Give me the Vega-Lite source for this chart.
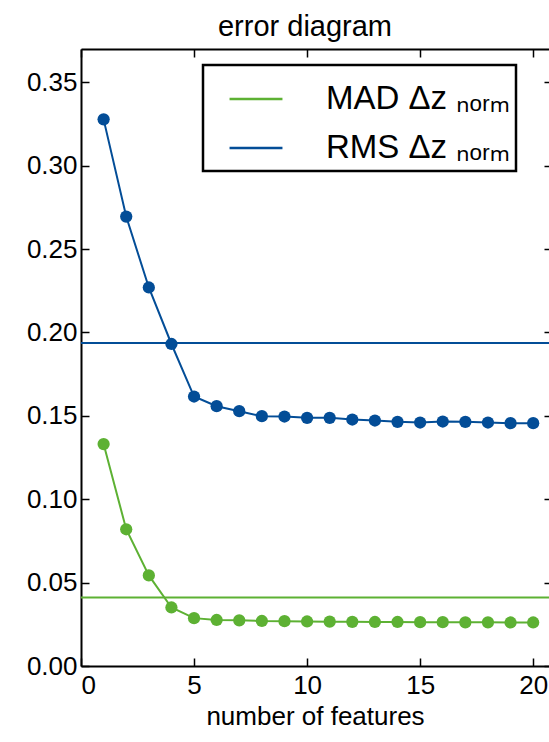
{
  "$schema": "https://vega.github.io/schema/vega-lite/v6.json",
  "autosize": "none",
  "width": 468,
  "height": 617,
  "padding": {"left": 81, "top": 49, "right": 0, "bottom": 76},
  "background": "white",
  "title": {"text": "error  diagram", "font": "Liberation Sans", "fontSize": 29, "fontWeight": "normal", "color": "black", "anchor": "middle", "offset": 6, "dx": -10},
  "config": {
    "view": {"stroke": null},
    "font": "Liberation Sans",
    "axis": {"grid": false, "domainColor": "black", "domainWidth": 2, "tickColor": "black", "tickWidth": 1.5, "labelFont": "Liberation Sans", "labelFontSize": 26, "labelColor": "black", "titleFont": "Liberation Sans", "titleFontSize": 26, "titleFontWeight": "normal", "titleColor": "black"},
    "legend": {"orient": "none", "legendX": 122, "legendY": 16, "strokeColor": "black", "strokeWidth": 2.5, "padding": 6, "symbolOffset": 19, "symbolType": "stroke", "symbolSize": 2800, "symbolStrokeWidth": 2.5, "labelFont": "Liberation Sans, Noto Sans", "labelFontSize": 33, "labelColor": "black", "labelOffset": 42, "rowPadding": 4, "labelLimit": 400, "title": null, "fillColor": "white"}
  },
  "datasets": {
    "pts": [
      {"n": 1, "s": "MAD", "v": 0.1331}, {"n": 2, "s": "MAD", "v": 0.0820}, {"n": 3, "s": "MAD", "v": 0.0543}, {"n": 4, "s": "MAD", "v": 0.0351},
      {"n": 5, "s": "MAD", "v": 0.0287}, {"n": 6, "s": "MAD", "v": 0.0276}, {"n": 7, "s": "MAD", "v": 0.0274}, {"n": 8, "s": "MAD", "v": 0.0270},
      {"n": 9, "s": "MAD", "v": 0.0269}, {"n": 10, "s": "MAD", "v": 0.0267}, {"n": 11, "s": "MAD", "v": 0.0266}, {"n": 12, "s": "MAD", "v": 0.0265},
      {"n": 13, "s": "MAD", "v": 0.0264}, {"n": 14, "s": "MAD", "v": 0.0264}, {"n": 15, "s": "MAD", "v": 0.0263}, {"n": 16, "s": "MAD", "v": 0.0263},
      {"n": 17, "s": "MAD", "v": 0.0262}, {"n": 18, "s": "MAD", "v": 0.0262}, {"n": 19, "s": "MAD", "v": 0.0261}, {"n": 20, "s": "MAD", "v": 0.0261},
      {"n": 1, "s": "RMS", "v": 0.3278}, {"n": 2, "s": "RMS", "v": 0.2695}, {"n": 3, "s": "RMS", "v": 0.2270}, {"n": 4, "s": "RMS", "v": 0.1931},
      {"n": 5, "s": "RMS", "v": 0.1616}, {"n": 6, "s": "RMS", "v": 0.1558}, {"n": 7, "s": "RMS", "v": 0.1528}, {"n": 8, "s": "RMS", "v": 0.1498},
      {"n": 9, "s": "RMS", "v": 0.1496}, {"n": 10, "s": "RMS", "v": 0.1488}, {"n": 11, "s": "RMS", "v": 0.1488}, {"n": 12, "s": "RMS", "v": 0.1478},
      {"n": 13, "s": "RMS", "v": 0.1472}, {"n": 14, "s": "RMS", "v": 0.1464}, {"n": 15, "s": "RMS", "v": 0.1460}, {"n": 16, "s": "RMS", "v": 0.1466},
      {"n": 17, "s": "RMS", "v": 0.1464}, {"n": 18, "s": "RMS", "v": 0.1460}, {"n": 19, "s": "RMS", "v": 0.1456}, {"n": 20, "s": "RMS", "v": 0.1456}
    ],
    "ref": [
      {"s": "MAD", "v": 0.0411},
      {"s": "RMS", "v": 0.1937}
    ]
  },
  "resolve": {"axis": {"x": "independent", "y": "independent"}},
  "layer": [
    {
      "data": {"name": "ref"},
      "mark": {"type": "rule", "strokeWidth": 2},
      "encoding": {
        "y": {"field": "v", "type": "quantitative", "scale": {"domain": [0, 0.37], "nice": false}, "axis": {"orient": "left", "values": [0, 0.05, 0.1, 0.15, 0.2, 0.25, 0.3, 0.35], "format": ".2f", "tickSize": -8, "labelPadding": 12, "title": null}},
        "color": {"field": "s", "type": "nominal", "scale": {"domain": ["MAD", "RMS"], "range": ["#5DB133", "#034D97"]}, "legend": {"labelExpr": "datum.label + ' Δz ₙₒᵣₘ'"}}
      }
    },
    {
      "data": {"name": "pts"},
      "mark": {"type": "line", "strokeWidth": 2},
      "encoding": {
        "x": {"field": "n", "type": "quantitative", "scale": {"domain": [0, 20.7], "nice": false, "zero": false}, "axis": {"orient": "bottom", "values": [0, 5, 10, 15, 20], "tickSize": -8, "labelPadding": 14, "title": "number  of  features", "titlePadding": 5}},
        "y": {"field": "v", "type": "quantitative", "axis": {"orient": "right", "values": [0, 0.05, 0.1, 0.15, 0.2, 0.25, 0.3, 0.35], "labels": false, "tickSize": -5, "domain": false, "title": null}},
        "color": {"field": "s", "type": "nominal", "legend": null},
        "detail": {"field": "s"}
      }
    },
    {
      "data": {"name": "pts"},
      "mark": {"type": "point", "filled": true, "size": 150, "opacity": 1},
      "encoding": {
        "x": {"field": "n", "type": "quantitative", "axis": {"orient": "top", "values": [0, 5, 10, 15, 20], "labels": false, "tickSize": -8, "title": null}},
        "y": {"field": "v", "type": "quantitative", "axis": null},
        "color": {"field": "s", "type": "nominal", "legend": null}
      }
    }
  ]
}
